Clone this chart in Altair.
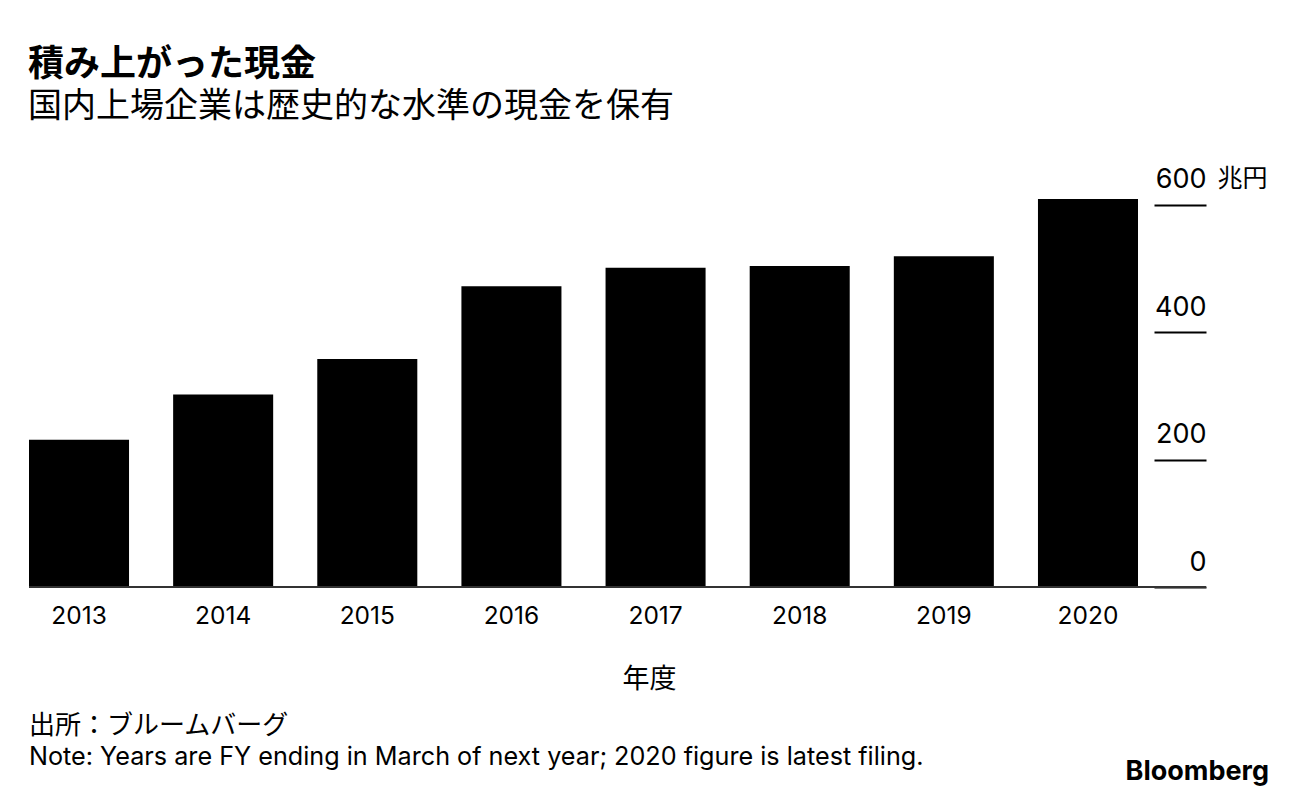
import altair as alt
import pandas as pd

years = ["2013", "2014", "2015", "2016", "2017", "2018", "2019", "2020"]
cash = [231, 302, 358, 472, 501, 504, 519, 609]

y_ticks = [0, 200, 400, 600]

title_text = "積み上がった現金"
subtitle_text = "国内上場企業は歴史的な水準の現金を保有"
x_title = "年度"
y_unit = "兆円"
source_text = "出所：ブルームバーグ"
note_text = "Note: Years are FY ending in March of next year; 2020 figure is latest filing."
brand_text = "Bloomberg"

df = pd.DataFrame({"year": years, "cash": cash})
one = pd.DataFrame({"k": [0]})

JP = "Noto Sans CJK JP"
LAT = "Inter"

W = 1109
H = 395

bars = alt.Chart(df).mark_bar(color="black").encode(
    x=alt.X(
        "year:N",
        sort=years,
        scale=alt.Scale(paddingInner=0.306, paddingOuter=0),
        axis=alt.Axis(
            title=x_title,
            titleFont=JP,
            titleFontSize=27,
            titleFontWeight="normal",
            titleColor="black",
            titleX=620,
            titleY=92,
            titleBaseline="middle",
            titleAlign="center",
            labelFont=LAT,
            labelFontSize=24.5,
            labelColor="black",
            labelAngle=0,
            labelBaseline="top",
            labelPadding=17,
            ticks=False,
            tickSize=0,
            domain=False,
            grid=False,
        ),
    ),
    y=alt.Y(
        "cash:Q",
        scale=alt.Scale(domain=[0, 620], nice=False),
        axis=alt.Axis(
            orient="right",
            values=y_ticks,
            offset=16,
            tickSize=52,
            tickWidth=2,
            tickColor="black",
            domain=False,
            grid=False,
            labelFont=LAT,
            labelFontSize=27,
            labelColor="black",
            labelAlign="right",
            labelBaseline="alphabetic",
            labelPadding=0,
            labelOffset=-17,
            title=y_unit,
            titleFont=JP,
            titleFontSize=25,
            titleFontWeight="normal",
            titleColor="black",
            titleAngle=0,
            titleAlign="left",
            titleBaseline="alphabetic",
            titleX=63,
            titleY=-6,
        ),
    ),
)

baseline = alt.Chart(one).mark_rule(color="#333333", strokeWidth=2).encode(
    y=alt.datum(0),
    x=alt.value(0),
    x2=alt.value(1177),
)

src = alt.Chart(one).mark_text(
    text=source_text, font=JP, fontSize=26, align="left", baseline="alphabetic", color="black"
).encode(x=alt.value(0), y=alt.value(542))

note = alt.Chart(one).mark_text(
    text=note_text, font=LAT, fontSize=25.2, align="left", baseline="alphabetic", color="black"
).encode(x=alt.value(0), y=alt.value(573))

brand = alt.Chart(one).mark_text(
    text=brand_text, font=LAT, fontSize=27, fontWeight="bold", align="right",
    baseline="alphabetic", color="black"
).encode(x=alt.value(1240), y=alt.value(588))

chart = alt.layer(bars, baseline, src, note, brand).properties(
    width=W,
    height=H,
    background="white",
    padding={"left": 20, "top": 38, "right": 10, "bottom": 5},
    title=alt.TitleParams(
        text=title_text,
        subtitle=subtitle_text,
        anchor="start",
        font=JP,
        fontSize=36,
        fontWeight="bold",
        color="black",
        subtitleFont=JP,
        subtitleFontSize=34,
        subtitleColor="black",
        subtitlePadding=6,
        offset=41,
    ),
).configure_view(stroke="transparent", strokeWidth=0)

chart.save("out.html", embed_options={"renderer": "svg", "actions": False})
